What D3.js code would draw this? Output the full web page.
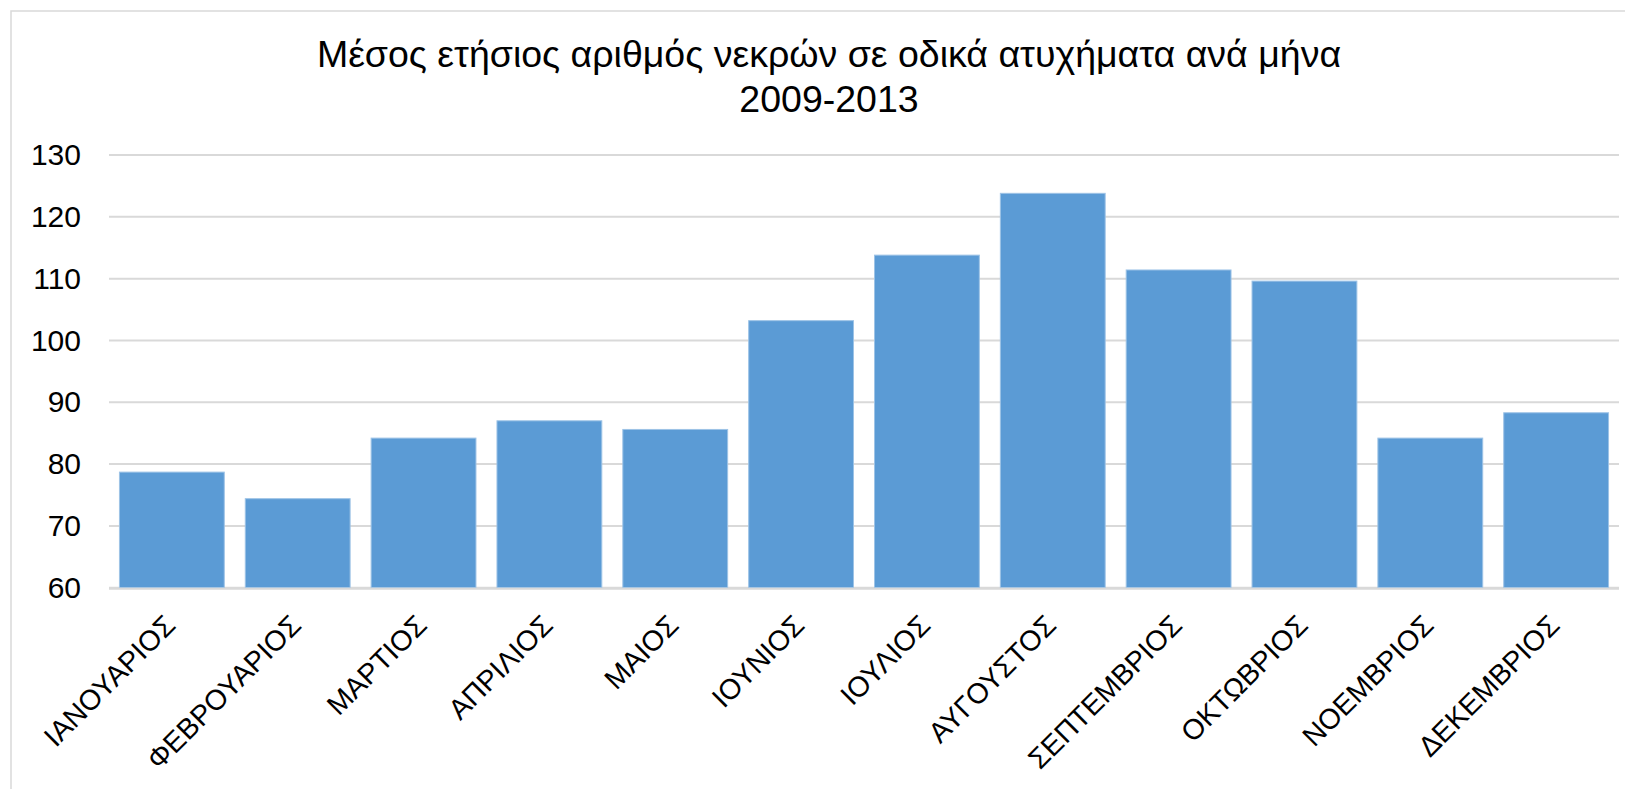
<!DOCTYPE html>
<html>
<head>
<meta charset="utf-8">
<script src="https://cdn.jsdelivr.net/npm/d3@7/dist/d3.min.js"></script>
<style>
  html, body { margin: 0; padding: 0; background: #ffffff; }
  svg { display: block; }
  text { font-family: "Liberation Sans", Arial, sans-serif; fill: #000; }
</style>
</head>
<body>
<svg id="chart" width="1625" height="789"></svg>
<script>
const months = ["ΙΑΝΟΥΑΡΙΟΣ","ΦΕΒΡΟΥΑΡΙΟΣ","ΜΑΡΤΙΟΣ","ΑΠΡΙΛΙΟΣ","ΜΑΙΟΣ","ΙΟΥΝΙΟΣ","ΙΟΥΛΙΟΣ","ΑΥΓΟΥΣΤΟΣ","ΣΕΠΤΕΜΒΡΙΟΣ","ΟΚΤΩΒΡΙΟΣ","ΝΟΕΜΒΡΙΟΣ","ΔΕΚΕΜΒΡΙΟΣ"];
const deaths = [78.7, 74.4, 84.2, 87.0, 85.6, 103.2, 113.8, 123.8, 111.4, 109.6, 84.2, 88.3];
const yTicks = [60, 70, 80, 90, 100, 110, 120, 130];
const titleLines = ["Μέσος ετήσιος αριθμός νεκρών σε οδικά ατυχήματα ανά μήνα", "2009-2013"];

const svg = d3.select("#chart");

// chart frame (extends beyond right/bottom edges)
svg.append("rect")
  .attr("x", 11).attr("y", 11)
  .attr("width", 1640).attr("height", 800)
  .attr("fill", "none").attr("stroke", "#d9d9d9").attr("stroke-width", 1.5);

const x = d3.scaleBand()
  .domain(months)
  .range([109, 1619])
  .paddingInner(0.167)
  .paddingOuter(0.083);

const y = d3.scaleLinear()
  .domain([60, 130])
  .range([587.7, 155]);

// gridlines
svg.append("g")
  .selectAll("line")
  .data(yTicks)
  .join("line")
  .attr("x1", 109).attr("x2", 1619)
  .attr("y1", d => y(d)).attr("y2", d => y(d))
  .attr("stroke", "#d9d9d9").attr("stroke-width", 2);

// y axis labels
const yAxis = d3.axisLeft(y).tickValues(yTicks).tickSize(0).tickPadding(0);
const gy = svg.append("g").attr("transform", "translate(81,0)").call(yAxis);
gy.select(".domain").remove();
gy.selectAll("text")
  .attr("font-size", 30)
  .attr("font-family", "Liberation Sans, Arial, sans-serif")
  .attr("fill", "#000");

// bars
svg.append("g")
  .selectAll("rect")
  .data(months)
  .join("rect")
  .attr("x", d => x(d))
  .attr("width", x.bandwidth())
  .attr("y", (d, i) => y(deaths[i]))
  .attr("height", (d, i) => y(60) - y(deaths[i]))
  .attr("fill", "#5b9bd5")
  .attr("stroke", "#9dc3e6").attr("stroke-width", 1);

// x axis baseline
svg.append("line")
  .attr("x1", 109).attr("x2", 1619)
  .attr("y1", y(60) + 1).attr("y2", y(60) + 1)
  .attr("stroke", "#d9d9d9").attr("stroke-width", 2);

// x labels rotated
svg.append("g")
  .selectAll("text")
  .data(months)
  .join("text")
  .attr("transform", d => `translate(${x(d) + x.bandwidth() / 2 + 5},${627}) rotate(-45)`)
  .attr("text-anchor", "end")
  .attr("font-size", 28.5)
  .text(d => d);

// title
svg.append("g")
  .selectAll("text")
  .data(titleLines)
  .join("text")
  .attr("x", 829)
  .attr("y", (d, i) => 66.7 + i * 45.5)
  .attr("text-anchor", "middle")
  .attr("font-size", 37.5)
  .text(d => d);
</script>
</body>
</html>
